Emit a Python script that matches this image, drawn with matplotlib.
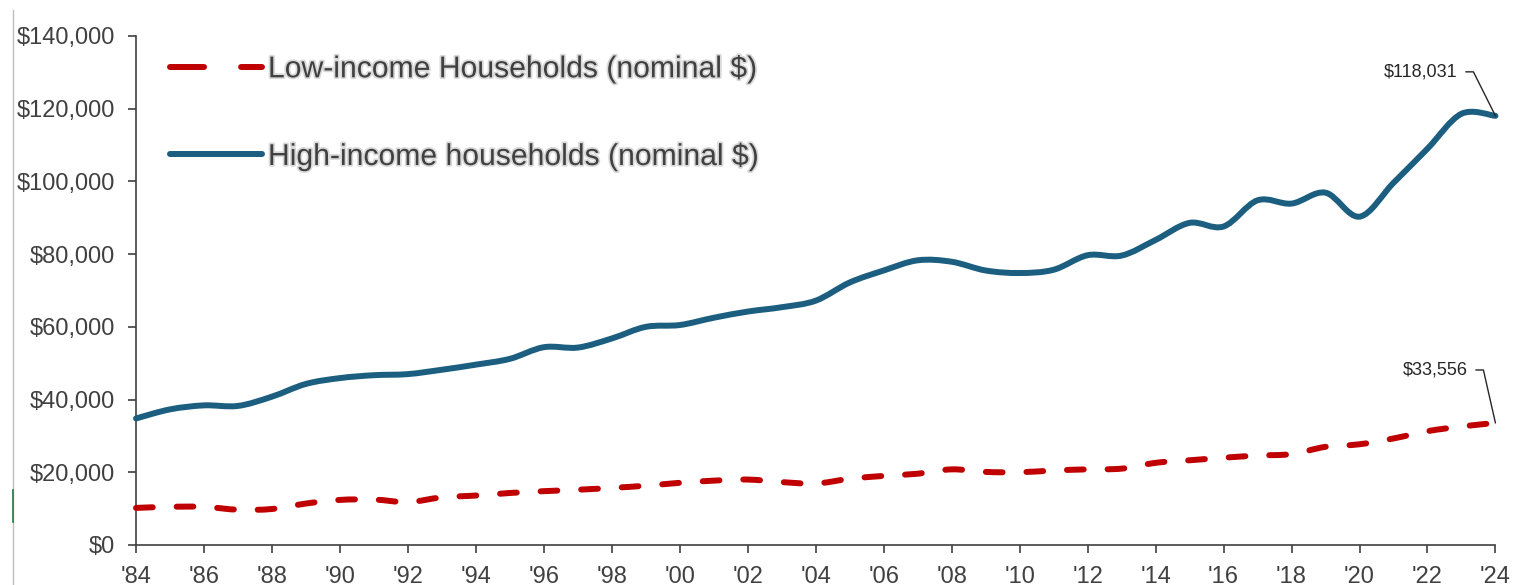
import numpy as np
from matplotlib import pyplot as plt
from matplotlib.path import Path
from matplotlib.patches import PathPatch
from matplotlib.lines import Line2D
from matplotlib.ticker import StrMethodFormatter
import matplotlib.patheffects as pe

years = list(range(1984, 2025))
high_income = [34800, 37300, 38400, 38250, 40800, 44300, 45900, 46700, 47000, 48200,
               49600, 51200, 54400, 54300, 56800, 60000, 60500, 62500, 64200, 65400,
               67200, 72200, 75500, 78300, 77900, 75500, 74800, 75700, 79700, 79600,
               83900, 88600, 87600, 94800, 93900, 96900, 90300, 99600, 109000, 118600,
               118031]
low_income = [10200, 10500, 10500, 9700, 9900, 11400, 12400, 12500, 11800, 13100,
              13600, 14300, 14800, 15200, 15700, 16300, 17100, 17700, 18000, 17300,
              16900, 18200, 19000, 19600, 20800, 20100, 20000, 20500, 20800, 21000,
              22600, 23300, 24000, 24600, 25000, 27000, 27700, 29300, 31300, 32600,
              33556]
tick_years = list(range(1984, 2025, 2))
tick_labels = ["'" + str(y)[2:] for y in tick_years]
label_low = r'Low-income Households (nominal \$)'
label_high = r'High-income households (nominal \$)'
end_low = r'\$33,556'
end_high = r'\$118,031'

BLUE = '#1b5e80'
RED = '#c00000'
GREY = '#404040'
FONT = ['Liberation Sans', 'DejaVu Sans']


def smooth_path(x, y):
    # Excel-like smoothed line: catmull-rom segments as cubic beziers
    n = len(x)
    verts = [(x[0], y[0])]
    codes = [Path.MOVETO]
    for i in range(n - 1):
        a = max(i - 1, 0)
        b = min(i + 2, n - 1)
        c1 = (x[i] + (x[i + 1] - x[a]) / 6, y[i] + (y[i + 1] - y[a]) / 6)
        c2 = (x[i + 1] - (x[b] - x[i]) / 6, y[i + 1] - (y[b] - y[i]) / 6)
        verts += [c1, c2, (x[i + 1], y[i + 1])]
        codes += [Path.CURVE4] * 3
    return Path(verts, codes)


fig = plt.figure(figsize=(15.13, 5.85), dpi=100)
ax = fig.add_axes([0.0899, 0.0684, 0.8985, 0.8701])

lw = 4.3
ax.add_patch(PathPatch(smooth_path(years, high_income), facecolor='none',
                       edgecolor=BLUE, lw=lw, capstyle='round', joinstyle='round',
                       clip_on=False, zorder=3))
ax.add_patch(PathPatch(smooth_path(years, low_income), facecolor='none',
                       edgecolor=RED, lw=lw, linestyle=(0, (2.8, 4.0)),
                       capstyle='round', joinstyle='round', clip_on=False, zorder=3))

ax.set_xlim(1984, 2024)
ax.set_ylim(0, 140000)
ax.set_xticks(tick_years)
ax.set_xticklabels(tick_labels)
ax.set_yticks(np.arange(0, 140001, 20000))
ax.yaxis.set_major_formatter(StrMethodFormatter(r'\${x:,.0f}'))

for s in ['top', 'right']:
    ax.spines[s].set_visible(False)
for s in ['left', 'bottom']:
    ax.spines[s].set_color(GREY)
    ax.spines[s].set_linewidth(1.2)
ax.tick_params(direction='out', length=6, width=1.2, color=GREY,
               labelcolor=GREY, labelsize=17)
ax.tick_params(axis='y', pad=9)
ax.tick_params(axis='x', pad=9)
for t in ax.get_xticklabels() + ax.get_yticklabels():
    t.set_family(FONT)

# legend
h_low = Line2D([], [], color=RED, lw=lw, linestyle=(0, (5.7, 6.2)),
               dash_capstyle='round')
h_high = Line2D([], [], color=BLUE, lw=lw, solid_capstyle='round')
leg = ax.legend([h_low, h_high], [label_low, label_high], loc='upper left',
                bbox_to_anchor=(0.025, 0.962), frameon=False, borderpad=0,
                borderaxespad=0, handlelength=3.05, handletextpad=0.2,
                labelspacing=1.98, prop={'family': FONT, 'size': 21.7})
for t in leg.get_texts():
    t.set_color(GREY)
    t.set_path_effects([pe.withStroke(linewidth=2.5, foreground='#d9d9d9')])

# end value call-outs
for val, txt, off, ang in [(high_income[-1], end_high, (-38, 44), 116.6),
                           (low_income[-1], end_low, (-28, 53), 102.8)]:
    ax.annotate(txt, xy=(years[-1], val), xytext=off, textcoords='offset pixels',
                ha='right', va='center', fontsize=13, color='#262626', family=FONT,
                arrowprops=dict(arrowstyle='-', color='#262626', lw=1,
                                relpos=(1, 0.5), shrinkA=4, shrinkB=0,
                                connectionstyle=f'angle,angleA=0,angleB={ang},rad=0'),
                annotation_clip=False)

# faint border line at the left edge of the original capture
fig.add_artist(Line2D([12.5 / 1513, 12.5 / 1513], [0, 1 - 10 / 585],
                      transform=fig.transFigure, color='#bfbfbf', lw=1))
fig.add_artist(Line2D([12.5 / 1513, 12.5 / 1513], [1 - 522 / 585, 1 - 490 / 585],
                      transform=fig.transFigure, color='#1e7b45', lw=1.2))

fig.savefig('out.png', dpi=100)
